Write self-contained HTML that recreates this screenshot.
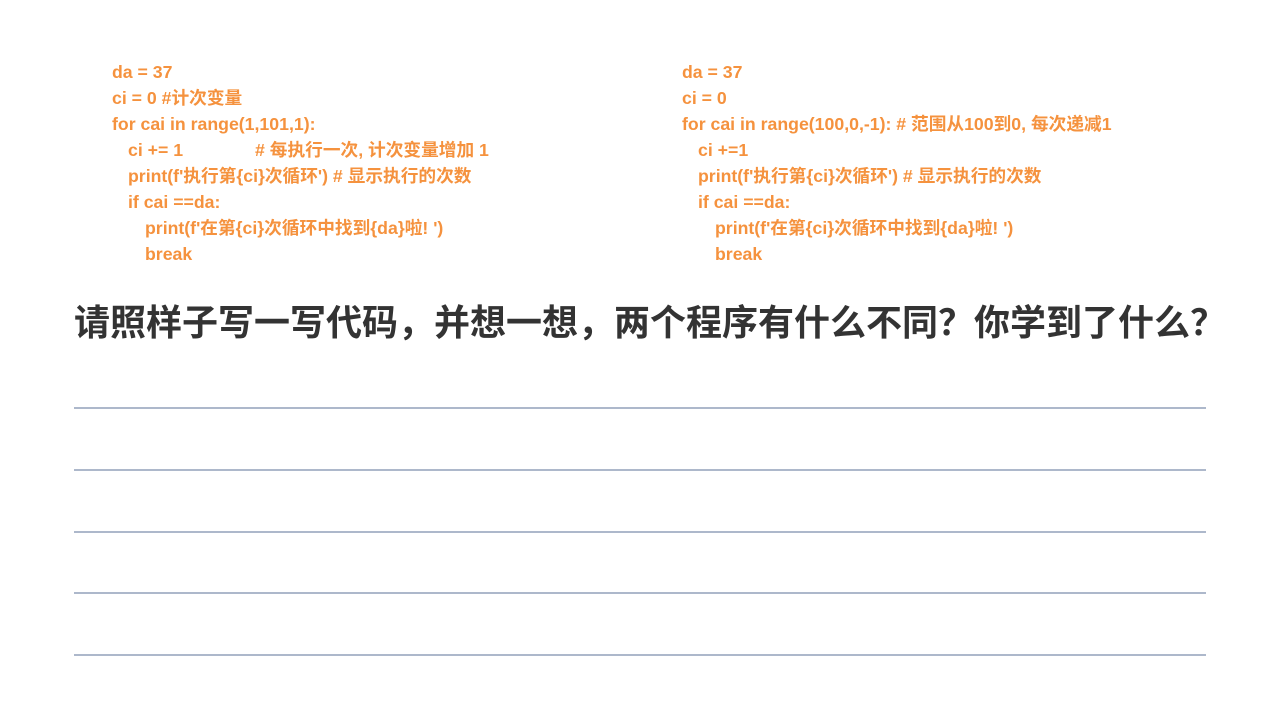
<!DOCTYPE html>
<html><head><meta charset="utf-8"><style>
body{margin:0;width:1280px;height:720px;background:#fff;position:relative;overflow:hidden}
.c{position:absolute;font-family:"Liberation Sans","Noto Sans CJK SC",sans-serif;font-size:17.7px;font-weight:bold;color:#f5923e;white-space:pre;line-height:26px}
.t{position:absolute;left:74px;top:296px;font-family:"Noto Sans CJK SC",sans-serif;font-weight:bold;font-size:36px;letter-spacing:0;color:#333;white-space:nowrap;line-height:48px}
.l{position:absolute;left:74px;width:1132px;height:2px;background:#adb8cb}
</style></head><body>
<div class="c" style="left:112px;top:59px">da = 37</div>
<div class="c" style="left:112px;top:85px">ci = 0 #计次变量</div>
<div class="c" style="left:112px;top:111px">for cai in range(1,101,1):</div>
<div class="c" style="left:128px;top:137px">ci += 1</div>
<div class="c" style="left:255px;top:137px"># 每执行一次, 计次变量增加 1</div>
<div class="c" style="left:128px;top:163px">print(f'执行第{ci}次循环') # 显示执行的次数</div>
<div class="c" style="left:128px;top:189px">if cai ==da:</div>
<div class="c" style="left:145px;top:215px">print(f'在第{ci}次循环中找到{da}啦! ')</div>
<div class="c" style="left:145px;top:241px">break</div>

<div class="c" style="left:682px;top:59px">da = 37</div>
<div class="c" style="left:682px;top:85px">ci = 0</div>
<div class="c" style="left:682px;top:111px">for cai in range(100,0,-1): # 范围从100到0, 每次递减1</div>
<div class="c" style="left:698px;top:137px">ci +=1</div>
<div class="c" style="left:698px;top:163px">print(f'执行第{ci}次循环') # 显示执行的次数</div>
<div class="c" style="left:698px;top:189px">if cai ==da:</div>
<div class="c" style="left:715px;top:215px">print(f'在第{ci}次循环中找到{da}啦! ')</div>
<div class="c" style="left:715px;top:241px">break</div>

<div class="t">请照样子写一写代码，并想一想，两个程序有什么不同？你学到了什么？</div>

<div class="l" style="top:407px"></div>
<div class="l" style="top:469px"></div>
<div class="l" style="top:531px"></div>
<div class="l" style="top:592px"></div>
<div class="l" style="top:654px"></div>
</body></html>
